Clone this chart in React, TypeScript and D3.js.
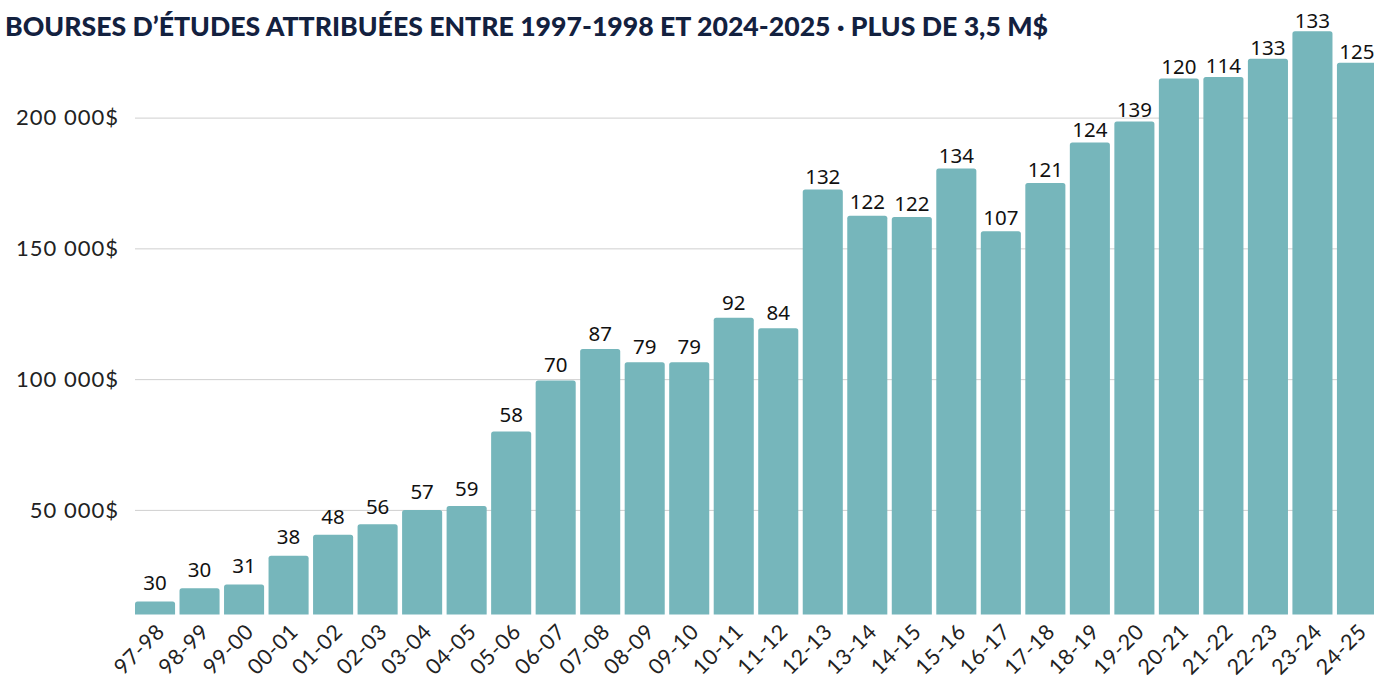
import React, { useEffect, useRef } from 'react';
import * as d3 from 'd3';

const seasons = [
  '97-98', '98-99', '99-00', '00-01', '01-02', '02-03', '03-04', '04-05', '05-06', '06-07',
  '07-08', '08-09', '09-10', '10-11', '11-12', '12-13', '13-14', '14-15', '15-16', '16-17',
  '17-18', '18-19', '19-20', '20-21', '21-22', '22-23', '23-24', '24-25',
];
// montant total des bourses ($)
const amounts = [
  15000, 20000, 21500, 32500, 40500, 44500, 50000, 51500, 80000, 99500,
  111500, 106500, 106500, 123500, 119500, 172500, 162500, 162000, 180500, 156500,
  175000, 190500, 198500, 215000, 215500, 222500, 233000, 221000,
];
// nombre de bourses
const counts = [
  30, 30, 31, 38, 48, 56, 57, 59, 58, 70,
  87, 79, 79, 92, 84, 132, 122, 122, 134, 107,
  121, 124, 139, 120, 114, 133, 133, 125,
];
const yTicks = [50000, 100000, 150000, 200000];
const title = 'BOURSES D’ÉTUDES ATTRIBUÉES ENTRE 1997-1998 ET 2024-2025 · PLUS DE 3,5 M$';

const WIDTH = 1374;
const HEIGHT = 687;
const BAR_COLOR = '#76b6bb';

function topRoundedBar(x: number, y: number, w: number, h: number, r: number) {
  return `M${x},${y + h}V${y + r}Q${x},${y} ${x + r},${y}H${x + w - r}Q${x + w},${y} ${x + w},${y + r}V${y + h}Z`;
}

export default function App() {
  const ref = useRef<SVGSVGElement>(null);

  useEffect(() => {
    const svg = d3.select(ref.current);
    svg.selectAll('*').remove();

    const x = d3.scaleBand<string>()
      .domain(seasons)
      .range([135, 1377])
      .paddingInner(0.1)
      .paddingOuter(0);

    const y = d3.scaleLinear()
      .domain([10000, 240000])
      .range([614.5, 13]);

    // title
    svg.append('text')
      .attr('x', 5)
      .attr('y', 36)
      .attr('font-family', 'Lato, "Open Sans", sans-serif')
      .attr('font-weight', 900)
      .attr('font-size', 27)
      .attr('fill', '#13213f')
      .attr('textLength', 1043)
      .attr('lengthAdjust', 'spacingAndGlyphs')
      .text(title);

    // gridlines + y labels
    const grid = svg.append('g');
    grid.selectAll('line')
      .data(yTicks)
      .join('line')
      .attr('x1', 135)
      .attr('x2', WIDTH)
      .attr('y1', d => y(d) + 0.5)
      .attr('y2', d => y(d) + 0.5)
      .attr('stroke', '#cfcfcf')
      .attr('stroke-width', 1);

    grid.selectAll('text')
      .data(yTicks)
      .join('text')
      .attr('x', 119)
      .attr('y', d => y(d))
      .attr('dy', '0.35em')
      .attr('text-anchor', 'end')
      .attr('font-family', 'Lato, sans-serif')
      .attr('font-size', 22)
      .attr('letter-spacing', 1)
      .attr('fill', '#222')
      .text(d => d3.format(',')(d).replace(/,/g, ' ') + '$');

    const data = seasons.map((s, i) => ({ season: s, amount: amounts[i], count: counts[i] }));

    // bars
    svg.append('g')
      .selectAll('path')
      .data(data)
      .join('path')
      .attr('d', d => {
        const x0 = x(d.season)!;
        const y0 = y(d.amount);
        return topRoundedBar(x0, y0, x.bandwidth(), y(10000) - y0, 2.5);
      })
      .attr('fill', BAR_COLOR);

    // count labels
    svg.append('g')
      .selectAll('text')
      .data(data)
      .join('text')
      .attr('x', d => x(d.season)! + x.bandwidth() / 2)
      .attr('y', d => {
        const top = y(d.amount);
        return top - (3.5 + (top - 30) * 0.0146);
      })
      .attr('text-anchor', 'middle')
      .attr('font-family', '"Noto Sans", "Open Sans", sans-serif')
      .attr('font-size', 20.5)
      .attr('fill', '#111')
      .text(d => d.count);

    // x labels
    svg.append('g')
      .selectAll('text')
      .data(seasons)
      .join('text')
      .attr('transform', d => `translate(${x(d)! + x.bandwidth() / 2 + 11},${633}) rotate(-45)`)
      .attr('text-anchor', 'end')
      .attr('font-family', 'Lato, sans-serif')
      .attr('font-size', 21.5)
      .attr('letter-spacing', 0.6)
      .attr('fill', '#222')
      .text(d => d);
  }, []);

  return (
    <svg
      ref={ref}
      width={WIDTH}
      height={HEIGHT}
      style={{ position: 'absolute', left: 0, top: 0, background: '#fff' }}
    />
  );
}
